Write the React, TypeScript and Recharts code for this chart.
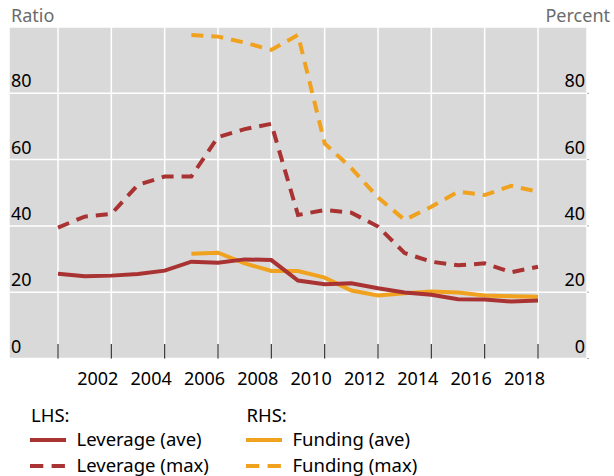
import React from 'react';
import { LineChart, Line, XAxis, YAxis, CartesianGrid } from 'recharts';

const years = [2000, 2001, 2002, 2003, 2004, 2005, 2006, 2007, 2008, 2009, 2010, 2011, 2012, 2013, 2014, 2015, 2016, 2017, 2018];
const leverageAve = [25.6, 24.8, 25.0, 25.5, 26.5, 29.2, 28.9, 29.9, 29.7, 23.5, 22.4, 22.7, 21.2, 19.9, 19.2, 17.9, 17.8, 17.2, 17.5];
const leverageMax = [39.5, 42.8, 43.6, 52.4, 54.9, 54.9, 66.8, 69.2, 70.8, 43.3, 44.8, 44.0, 39.8, 31.8, 29.2, 28.1, 28.7, 26.0, 27.7];
const fundingAve = [null, null, null, null, null, 31.6, 31.9, 28.7, 26.4, 26.4, 24.4, 20.5, 19.0, 19.7, 20.2, 19.9, 19.0, 18.8, 18.6];
const fundingMax = [null, null, null, null, null, 97.6, 97.1, 95.3, 93.1, 97.6, 64.9, 57.4, 48.6, 41.8, 45.8, 50.3, 49.3, 52.1, 50.3];

const xTicks = [2000, 2002, 2004, 2006, 2008, 2010, 2012, 2014, 2016, 2018];
const xTickLabels = ['', '2002', '2004', '2006', '2008', '2010', '2012', '2014', '2016', '2018'];
const yTicks = [0, 20, 40, 60, 80];

const RED = '#A93232';
const ORANGE = '#F0A21E';
const FONT = '"Noto Sans", sans-serif';

const W = 614;
const H = 476;
const PLOT_BOTTOM = 358.5;

const data = years.map((y, i) => ({
  year: y,
  levAve: leverageAve[i],
  levMax: leverageMax[i],
  funAve: fundingAve[i],
  funMax: fundingMax[i],
}));

const XTick = (props: any) => {
  const { x, payload } = props;
  const idx = xTicks.indexOf(payload.value);
  const label = idx >= 0 ? xTickLabels[idx] : '';
  return (
    <g>
      <line x1={x} x2={x} y1={PLOT_BOTTOM - 14.5} y2={PLOT_BOTTOM} stroke="#333" strokeWidth={1.2} />
      {label ? (
        <text x={x - 13.5} y={385} textAnchor="middle" fontSize={18} fontFamily={FONT} fill="#000">
          {label}
        </text>
      ) : null}
    </g>
  );
};

const LeftTick = (props: any) => {
  const { y, payload } = props;
  return (
    <text x={11} y={y - 6} textAnchor="start" fontSize={18} fontFamily={FONT} fill="#000">
      {payload.value}
    </text>
  );
};

const RightTick = (props: any) => {
  const { y, payload } = props;
  return (
    <g>
      <line x1={587} x2={589} y1={y} y2={y} stroke="#aaa" strokeWidth={1} />
      <text x={585} y={y - 6} textAnchor="end" fontSize={18} fontFamily={FONT} fill="#000">
        {payload.value}
      </text>
    </g>
  );
};

export default function App() {
  return (
    <div style={{ position: 'absolute', left: 0, top: 0, width: W, height: H, background: '#fff', fontFamily: FONT }}>
      <div style={{ position: 'absolute', left: 0, top: 0 }}>
        <LineChart width={W} height={H} data={data} margin={{ top: 27, right: 26, bottom: H - PLOT_BOTTOM - 1, left: 8 }}>
          <CartesianGrid fill="#D9D9D9" fillOpacity={1} stroke="#ffffff" strokeWidth={1.5} />
          <XAxis
            dataKey="year"
            type="number"
            domain={[2000, 2018]}
            ticks={xTicks}
            padding={{ left: 49, right: 49 }}
            height={1}
            axisLine={false}
            tickLine={false}
            tick={<XTick />}
            interval={0}
          />
          <YAxis
            domain={[0, 100]}
            ticks={yTicks}
            width={1}
            axisLine={false}
            tickLine={false}
            tick={<LeftTick />}
            interval={0}
          />
          <YAxis
            yAxisId="right"
            orientation="right"
            domain={[0, 100]}
            ticks={yTicks}
            width={1}
            axisLine={false}
            tickLine={false}
            tick={<RightTick />}
            interval={0}
          />
          <Line dataKey="funAve" yAxisId="right" stroke={ORANGE} strokeWidth={4} dot={false} isAnimationActive={false} />
          <Line dataKey="levAve" stroke={RED} strokeWidth={4} dot={false} isAnimationActive={false} />
          <Line dataKey="funMax" yAxisId="right" stroke={ORANGE} strokeWidth={4} strokeDasharray="12 8" dot={false} isAnimationActive={false} />
          <Line dataKey="levMax" stroke={RED} strokeWidth={4} strokeDasharray="12 8" dot={false} isAnimationActive={false} />
        </LineChart>
      </div>
      <svg width={W} height={H} style={{ position: 'absolute', left: 0, top: 0, pointerEvents: 'none' }}>
        <text x={11} y={22} fontSize={18} fontFamily={FONT} fill="#6b6b6b">Ratio</text>
        <text x={610} y={22} fontSize={18} fontFamily={FONT} fill="#6b6b6b" textAnchor="end">Percent</text>

        <text x={31} y={422} fontSize={18.5} fontFamily={FONT} fill="#000">LHS:</text>
        <line x1={30} x2={66} y1={440} y2={440} stroke={RED} strokeWidth={4} />
        <text x={76.5} y={446} fontSize={18.5} fontFamily={FONT} fill="#000">Leverage (ave)</text>
        <line x1={30} x2={66} y1={466} y2={466} stroke={RED} strokeWidth={4} strokeDasharray="13.3 8.3" />
        <text x={76.5} y={471.5} fontSize={18.5} fontFamily={FONT} fill="#000">Leverage (max)</text>

        <text x={246.5} y={422} fontSize={18.5} fontFamily={FONT} fill="#000">RHS:</text>
        <line x1={246} x2={282} y1={440} y2={440} stroke={ORANGE} strokeWidth={4} />
        <text x={292.5} y={446} fontSize={18.5} fontFamily={FONT} fill="#000">Funding (ave)</text>
        <line x1={246} x2={282} y1={466} y2={466} stroke={ORANGE} strokeWidth={4} strokeDasharray="13.3 8.3" />
        <text x={292.5} y={471.5} fontSize={18.5} fontFamily={FONT} fill="#000">Funding (max)</text>
      </svg>
    </div>
  );
}
